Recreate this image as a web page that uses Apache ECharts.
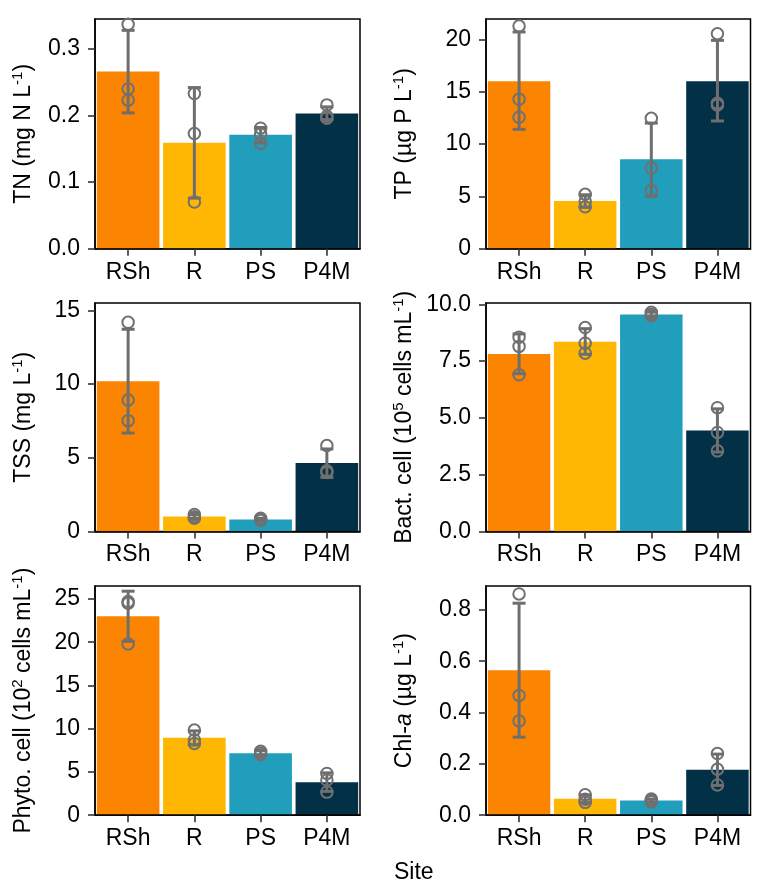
<!DOCTYPE html>
<html><head><meta charset="utf-8">
<script src="https://cdn.jsdelivr.net/npm/echarts@6/dist/echarts.min.js"></script>
<style>html,body{margin:0;padding:0;background:#fff}#c{width:759px;height:892px}</style>
</head><body><div id="c"></div>
<script>
// ---- data ----
const sites = ['RSh', 'R', 'PS', 'P4M'];
const siteColors = ['#FB8500', '#FFB703', '#219EBC', '#023047'];

const tnMean = [0.266, 0.159, 0.171, 0.203];
const tnLow = [0.204, 0.076, 0.159, 0.194];
const tnHigh = [0.328, 0.242, 0.182, 0.213];
const tnPoints = [[0.337, 0.240, 0.223], [0.233, 0.173, 0.070], [0.181, 0.172, 0.158], [0.216, 0.199, 0.196]];
const tnTicks = [0, 0.1, 0.2, 0.3];
const tnMax = 0.345;

const tpMean = [16.0, 4.55, 8.55, 16.0];
const tpLow = [11.4, 3.95, 5.0, 12.2];
const tpHigh = [20.7, 5.15, 12.0, 19.9];
const tpPoints = [[21.27, 14.27, 12.55], [5.2, 4.5, 4.0], [12.45, 7.7, 5.55], [20.53, 13.9, 13.72]];
const tpTicks = [0, 5, 10, 15, 20];
const tpMax = 21.94;

const tssMean = [10.2, 1.02, 0.82, 4.65];
const tssLow = [6.68, 0.89, 0.74, 3.67];
const tssHigh = [13.72, 1.15, 0.9, 5.6];
const tssPoints = [[14.19, 8.92, 7.52], [1.15, 1.0, 0.9], [0.9, 0.82, 0.74], [5.83, 4.12, 4.0]];
const tssTicks = [0, 5, 10, 15];
const tssMax = 15.5;

const bactMean = [7.82, 8.35, 9.55, 4.45];
const bactLow = [6.95, 7.8, 9.48, 3.5];
const bactHigh = [8.7, 8.93, 9.66, 5.4];
const bactPoints = [[8.55, 8.15, 6.9], [8.98, 8.29, 7.85], [9.65, 9.57, 9.5], [5.45, 4.36, 3.55]];
const bactTicks = [0, 2.5, 5, 7.5, 10];
const bactMax = 10.06;

const phytoMean = [23.0, 8.95, 7.15, 3.82];
const phytoLow = [20.1, 8.15, 6.95, 2.75];
const phytoHigh = [25.9, 9.75, 7.45, 4.9];
const phytoPoints = [[24.7, 24.5, 19.8], [9.85, 8.7, 8.3], [7.4, 7.2, 7.0], [4.83, 4.06, 2.67]];
const phytoTicks = [0, 5, 10, 15, 20, 25];
const phytoMax = 26.5;

const chlMean = [0.565, 0.064, 0.057, 0.177];
const chlLow = [0.304, 0.049, 0.051, 0.116];
const chlHigh = [0.826, 0.079, 0.063, 0.238];
const chlPoints = [[0.862, 0.466, 0.367], [0.08, 0.062, 0.05], [0.063, 0.057, 0.052], [0.24, 0.179, 0.118]];
const chlTicks = [0, 0.2, 0.4, 0.6, 0.8];
const chlMax = 0.893;

const panels = [
  {name: 'TN (mg N L{sup|-1})', mean: tnMean, low: tnLow, high: tnHigh, pts: tnPoints, ticks: tnTicks, max: tnMax, dec: 1},
  {name: 'TP (µg P L{sup|-1})', mean: tpMean, low: tpLow, high: tpHigh, pts: tpPoints, ticks: tpTicks, max: tpMax, dec: 0},
  {name: 'TSS (mg L{sup|-1})', mean: tssMean, low: tssLow, high: tssHigh, pts: tssPoints, ticks: tssTicks, max: tssMax, dec: 0},
  {name: 'Bact. cell (10{sup|5} cells mL{sup|-1})', mean: bactMean, low: bactLow, high: bactHigh, pts: bactPoints, ticks: bactTicks, max: bactMax, dec: 1},
  {name: 'Phyto. cell (10{sup|2} cells mL{sup|-1})', mean: phytoMean, low: phytoLow, high: phytoHigh, pts: phytoPoints, ticks: phytoTicks, max: phytoMax, dec: 0},
  {name: 'Chl-{it|a} (µg L{sup|-1})', mean: chlMean, low: chlLow, high: chlHigh, pts: chlPoints, ticks: chlTicks, max: chlMax, dec: 1}
];

// ---- layout ----
const FONT = 'Liberation Sans, Arial, sans-serif';
const FS = 23;
const colLeft = [95, 486];
const colWidth = [265, 264.5];
const rowTop = [19, 303, 586];
const rowHeight = [229.7, 228.5, 229.2];
const nameGaps = [58, 68];
const errColor = '#6e6e6e';

const grids = [], xAxes = [], yAxes = [], series = [];
panels.forEach((p, k) => {
  const col = k % 2, row = Math.floor(k / 2);
  grids.push({left: colLeft[col], top: rowTop[row], width: colWidth[col], height: rowHeight[row],
    show: true, borderColor: '#000', borderWidth: 1.5, backgroundColor: 'transparent', containLabel: false});
  xAxes.push({type: 'category', gridIndex: k, data: sites, boundaryGap: true, z: 10,
    axisLine: {show: true, lineStyle: {color: '#000', width: 1.5}},
    axisTick: {show: true, alignWithLabel: true, length: 7, lineStyle: {color: '#333', width: 1.6}},
    axisLabel: {color: '#000', fontFamily: FONT, fontSize: FS, margin: 12}
  });
  yAxes.push({type: 'value', gridIndex: k, min: 0, max: p.max, z: 10,
    splitLine: {show: false},
    axisLine: {show: true, lineStyle: {color: '#000', width: 1.5}},
    axisTick: {show: true, length: 7, lineStyle: {color: '#333', width: 1.6}, customValues: p.ticks},
    axisLabel: {color: '#000', fontFamily: FONT, fontSize: FS, margin: 15, customValues: p.ticks,
      formatter: v => Number(v).toFixed(p.dec)},
    name: p.name, nameLocation: 'middle', nameGap: nameGaps[col],
    nameTextStyle: {color: '#000', fontFamily: FONT, fontSize: FS, lineHeight: 27,
      rich: {
        sup: {fontFamily: FONT, fontSize: 15, lineHeight: 15, verticalAlign: 'top', color: '#000'},
        it: {fontFamily: FONT, fontSize: FS, fontStyle: 'italic', color: '#000'}
      }}
  });
  series.push({type: 'bar', xAxisIndex: k, yAxisIndex: k, barWidth: '94.5%', z: 2,
    data: p.mean.map((v, i) => ({value: v, itemStyle: {color: siteColors[i]}}))});
  series.push({type: 'custom', xAxisIndex: k, yAxisIndex: k, z: 3,
    data: p.low.map((lo, i) => [i, lo, p.high[i]]),
    encode: {x: 0, y: [1, 2]},
    renderItem: (params, api) => {
      const i = api.value(0);
      const a = api.coord([i, api.value(1)]);
      const b = api.coord([i, api.value(2)]);
      const hw = 6.5;
      const st = {stroke: errColor, lineWidth: 3};
      return {type: 'group', children: [
        {type: 'line', shape: {x1: a[0], y1: a[1], x2: b[0], y2: b[1]}, style: st},
        {type: 'line', shape: {x1: a[0] - hw, y1: a[1], x2: a[0] + hw, y2: a[1]}, style: st},
        {type: 'line', shape: {x1: b[0] - hw, y1: b[1], x2: b[0] + hw, y2: b[1]}, style: st}
      ]};
    }
  });
  const sc = [];
  p.pts.forEach((arr, i) => arr.forEach(v => sc.push([i, v])));
  series.push({type: 'scatter', xAxisIndex: k, yAxisIndex: k, z: 4, symbol: 'circle', symbolSize: 11.5,
    itemStyle: {color: 'rgba(0,0,0,0)', borderColor: '#707070', borderWidth: 2, opacity: 1},
    data: sc});
});

const chart = echarts.init(document.getElementById('c'), null, {renderer: 'canvas'});
chart.setOption({
  backgroundColor: '#fff',
  animation: false,
  grid: grids, xAxis: xAxes, yAxis: yAxes, series: series,
  graphic: [{type: 'text', left: 394, top: 861, style: {text: 'Site', fill: '#000', font: FS + 'px ' + FONT}}]
});
</script></body></html>
